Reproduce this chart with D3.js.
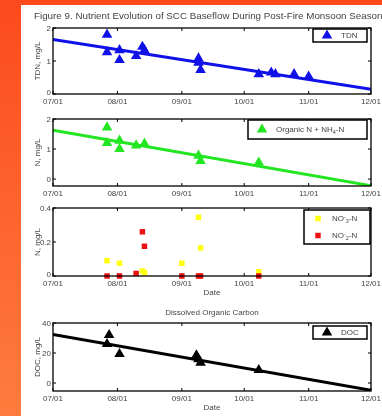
<!DOCTYPE html>
<html>
<head>
<meta charset="utf-8">
<script src="https://cdn.jsdelivr.net/npm/d3@7"></script>
<style>
  html, body { margin: 0; padding: 0; }
  body {
    width: 382px; height: 416px; overflow: hidden;
    background: linear-gradient(to bottom, #fc4a1d, #fe7c3d);
  }
  svg { position: absolute; left: 0; top: 0; filter: blur(0.35px); }
  text { font-family: "Liberation Sans", Arial, sans-serif; fill: #444; }
</style>
</head>
<body>
<svg width="382" height="416"></svg>
<script>
  'use strict'

  const title = 'Figure 9. Nutrient Evolution of SCC Baseflow During Post-Fire Monsoon Season'
  const monthTicks = ['2011-07-01', '2011-08-01', '2011-09-01', '2011-10-01', '2011-11-01', '2011-12-01']

  // TDN, mg/L
  const tdnDates = ['2011-07-27', '2011-07-27', '2011-08-02', '2011-08-02', '2011-08-10', '2011-08-13', '2011-08-14',
    '2011-09-09', '2011-09-09', '2011-09-10', '2011-10-08', '2011-10-14', '2011-10-16', '2011-10-25', '2011-11-01']
  const tdnValues = [1.8, 1.27, 1.33, 1.03, 1.15, 1.43, 1.33, 1.08, 0.95, 0.73, 0.6, 0.65, 0.6, 0.6, 0.53]
  const tdnFit = [1.65, 0.14]

  // Organic N + NH4-N
  const orgDates = ['2011-07-27', '2011-07-27', '2011-08-02', '2011-08-02', '2011-08-10', '2011-08-14',
    '2011-09-09', '2011-09-10', '2011-10-08']
  const orgValues = [1.72, 1.2, 1.28, 1.0, 1.12, 1.18, 0.78, 0.6, 0.55]
  const orgFit = [1.63, -0.22]

  // NO3-N and NO2-N
  const no3Dates = ['2011-07-27', '2011-08-02', '2011-08-13', '2011-08-14', '2011-09-01', '2011-09-09', '2011-09-10', '2011-10-08']
  const no3Values = [0.09, 0.075, 0.03, 0.02, 0.075, 0.345, 0.165, 0.025]
  const no2Dates = ['2011-07-27', '2011-08-02', '2011-08-10', '2011-08-13', '2011-08-14', '2011-09-01', '2011-09-09', '2011-09-10', '2011-10-08']
  const no2Values = [0, 0, 0.015, 0.26, 0.175, 0, 0, 0, 0]

  // DOC, mg/L
  const docDates = ['2011-07-28', '2011-07-27', '2011-08-02', '2011-09-08', '2011-09-09', '2011-09-10', '2011-10-08']
  const docValues = [32, 26, 19.3, 18.5, 15.8, 13.6, 8.7]
  const docFit = [32.4, -4.8]

  const parse = d3.utcParse('%Y-%m-%d')
  const svg = d3.select('svg')

  svg.append('rect')
    .attr('x', 21).attr('y', 5).attr('width', 361).attr('height', 411)
    .attr('fill', '#fff')

  svg.append('text')
    .attr('x', 34).attr('y', 18.5)
    .attr('font-size', 9.8)
    .text(title)

  const x = d3.scaleUtc()
    .domain([parse(monthTicks[0]), parse(monthTicks[monthTicks.length - 1])])
    .range([53, 371])

  const panels = [
    { top: 28, bottom: 94, domain: [0, 2], ticks: [0, 1, 2], ylabel: 'TDN, mg/L' },
    { top: 119, bottom: 186, domain: [-0.23, 2], ticks: [0, 1, 2], ylabel: 'N, mg/L' },
    { top: 208, bottom: 276, domain: [0, 0.4], ticks: [0, 0.2, 0.4], ylabel: 'N, mg/L', xlabel: 'Date' },
    { top: 323, bottom: 391, domain: [-5.3, 40], ticks: [0, 20, 40], ylabel: 'DOC, mg/L', xlabel: 'Date',
      title: 'Dissolved Organic Carbon' }
  ]

  const tri = d3.symbol().type(d3.symbolTriangle).size(48)
  const sq = d3.symbol().type(d3.symbolSquare).size(30)

  function drawPanel(p) {
    const y = d3.scaleLinear().domain(p.domain).range([p.bottom, p.top])
    const g = svg.append('g')
    p.y = y
    p.g = g

    // ticks inside frame, all four sides
    const tickG = g.append('g').attr('stroke', '#000').attr('stroke-width', 1)
    monthTicks.forEach(t => {
      const xp = x(parse(t))
      tickG.append('line').attr('x1', xp).attr('x2', xp).attr('y1', p.bottom).attr('y2', p.bottom - 3)
      tickG.append('line').attr('x1', xp).attr('x2', xp).attr('y1', p.top).attr('y2', p.top + 3)
      g.append('text')
        .attr('x', xp).attr('y', p.bottom + 10)
        .attr('text-anchor', 'middle').attr('font-size', 8)
        .text(d3.utcFormat('%m/%d')(parse(t)))
    })
    p.ticks.forEach(t => {
      const yp = y(t)
      tickG.append('line').attr('x1', 53).attr('x2', 56).attr('y1', yp).attr('y2', yp)
      tickG.append('line').attr('x1', 371).attr('x2', 368).attr('y1', yp).attr('y2', yp)
      g.append('text')
        .attr('x', 51).attr('y', t === 0 && p.domain[0] === 0 ? yp + 1 : yp + 2.8)
        .attr('text-anchor', 'end').attr('font-size', 8)
        .text(d3.format('~g')(t))
    })

    g.append('text')
      .attr('transform', `translate(40,${(p.top + p.bottom) / 2}) rotate(-90)`)
      .attr('text-anchor', 'middle').attr('font-size', 8)
      .text(p.ylabel)

    if (p.xlabel) {
      g.append('text')
        .attr('x', (53 + 371) / 2).attr('y', p.bottom + 19)
        .attr('text-anchor', 'middle').attr('font-size', 8)
        .text(p.xlabel)
    }
    if (p.title) {
      g.append('text')
        .attr('x', (53 + 371) / 2).attr('y', p.top - 8)
        .attr('text-anchor', 'middle').attr('font-size', 8)
        .text(p.title)
    }
  }

  function frame(p) {
    p.g.append('rect')
      .attr('x', 53).attr('y', p.top)
      .attr('width', 371 - 53).attr('height', p.bottom - p.top)
      .attr('fill', 'none').attr('stroke', '#000').attr('stroke-width', 1.3)
  }

  function fitLine(p, fit, color) {
    const clipId = 'clip' + p.top
    p.g.append('clipPath').attr('id', clipId)
      .append('rect').attr('x', 53).attr('y', p.top).attr('width', 318).attr('height', p.bottom - p.top)
    p.g.append('line')
      .attr('clip-path', `url(#${clipId})`)
      .attr('x1', x.range()[0]).attr('x2', x.range()[1])
      .attr('y1', p.y(fit[0])).attr('y2', p.y(fit[1]))
      .attr('stroke', color).attr('stroke-width', 3)
  }

  function markers(p, dates, values, sym, color) {
    p.g.selectAll(null)
      .data(dates.map((d, i) => ({ date: parse(d), value: values[i] })))
      .enter().append('path')
      .attr('transform', d => `translate(${x(d.date)},${p.y(d.value)})`)
      .attr('d', sym)
      .attr('fill', color)
  }

  function legend(p, box, items) {
    const lg = p.g.append('g')
    lg.append('rect')
      .attr('x', box[0]).attr('y', box[1]).attr('width', box[2]).attr('height', box[3])
      .attr('fill', '#fff').attr('stroke', '#000').attr('stroke-width', 1.5)
    items.forEach((it, i) => {
      const cy = box[1] + box[3] / (items.length * 2) * (2 * i + 1)
      lg.append('path')
        .attr('transform', `translate(${box[0] + 14},${cy})`)
        .attr('d', it.sym).attr('fill', it.color)
      const t = lg.append('text')
        .attr('x', box[0] + 28).attr('y', cy + 2.8)
        .attr('font-size', 8)
      it.parts.forEach(pt => {
        t.append('tspan')
          .attr('baseline-shift', pt[1] === 'sub' ? '-30%' : pt[1] === 'sup' ? '40%' : null)
          .attr('font-size', pt[1] ? 5.5 : 8)
          .text(pt[0])
      })
    })
  }

  panels.forEach(drawPanel)

  const [p1, p2, p3, p4] = panels

  fitLine(p1, tdnFit, '#1010e8')
  markers(p1, tdnDates, tdnValues, tri, '#1010e8')
  frame(p1)
  legend(p1, [313, 29, 54, 13], [{ sym: tri, color: '#1010e8', parts: [['TDN']] }])

  fitLine(p2, orgFit, '#22e622')
  markers(p2, orgDates, orgValues, tri, '#22e622')
  frame(p2)
  legend(p2, [248, 120, 119, 19], [{ sym: tri, color: '#22e622',
    parts: [['Organic N + NH'], ['4', 'sub'], ['-N']] }])

  markers(p3, no3Dates, no3Values, sq, '#ffff10')
  markers(p3, no2Dates, no2Values, sq, '#ee1010')
  frame(p3)
  legend(p3, [304, 210, 66, 34], [
    { sym: sq, color: '#ffff10', parts: [['NO'], ['-', 'sup'], ['3', 'sub'], ['-N']] },
    { sym: sq, color: '#ee1010', parts: [['NO'], ['-', 'sup'], ['2', 'sub'], ['-N']] }
  ])

  fitLine(p4, docFit, '#000')
  markers(p4, docDates, docValues, tri, '#000')
  frame(p4)
  legend(p4, [313, 326, 54, 13], [{ sym: tri, color: '#000', parts: [['DOC']] }])
</script>
</body>
</html>
